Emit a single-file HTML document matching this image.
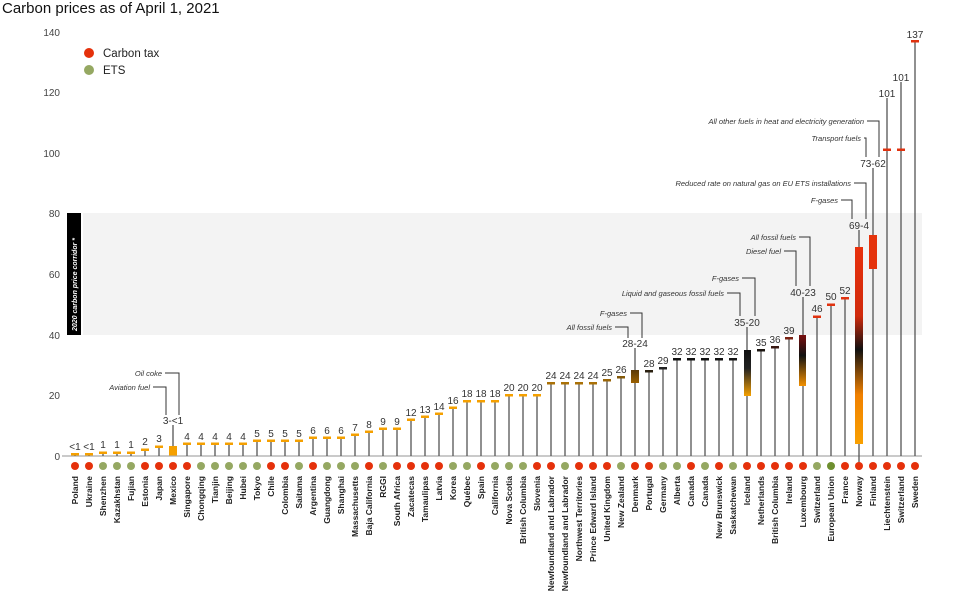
<!DOCTYPE html>
<html><head><meta charset="utf-8"><style>
body{margin:0;background:#fff}
svg{display:block;font-family:"Liberation Sans",sans-serif}
.v{font-size:10px;fill:#333;text-anchor:middle}
.c{font-size:8.5px;font-weight:bold;fill:#222;text-anchor:end}
.a{font-size:7.5px;font-style:italic;fill:#333;text-anchor:end}
.t{font-size:10px;fill:#444;text-anchor:end}
.s{stroke:#555;stroke-width:1.3}
.l{stroke:#333;stroke-width:1;fill:none}
</style></head><body>
<svg width="960" height="604" viewBox="0 0 960 604">
<defs>
<linearGradient id="gn" x1="0" y1="0" x2="0" y2="1"><stop offset="0" stop-color="#e8300c"/><stop offset="0.35" stop-color="#d02a0c"/><stop offset="0.52" stop-color="#111"/><stop offset="0.75" stop-color="#f08000"/><stop offset="1" stop-color="#f9a000"/></linearGradient>
<linearGradient id="gi" x1="0" y1="0" x2="0" y2="1"><stop offset="0" stop-color="#111"/><stop offset="0.4" stop-color="#222"/><stop offset="1" stop-color="#f5a000"/></linearGradient>
<linearGradient id="gl" x1="0" y1="0" x2="0" y2="1"><stop offset="0" stop-color="#7a1010"/><stop offset="0.4" stop-color="#111"/><stop offset="1" stop-color="#f39000"/></linearGradient>
<linearGradient id="gd" x1="0" y1="0" x2="0" y2="1"><stop offset="0" stop-color="#5a3a08"/><stop offset="1" stop-color="#9a6000"/></linearGradient>
</defs>
<text x="2" y="13" style="font-size:15px;fill:#111">Carbon prices as of April 1, 2021</text>
<rect x="83" y="213" width="839" height="122" fill="#f3f3f3"/>
<rect x="67" y="213" width="14" height="122" fill="#000"/>
<text transform="translate(77,331) rotate(-90)" style="font-size:7px;font-weight:bold;font-style:italic;fill:#fff">2020 carbon price corridor *</text>
<g class="t"><text x="60" y="36">140</text><text x="60" y="96">120</text><text x="60" y="157">100</text><text x="60" y="217">80</text><text x="60" y="278">60</text><text x="60" y="339">40</text><text x="60" y="399">20</text><text x="60" y="460">0</text></g>
<circle cx="89" cy="53" r="5" fill="#e5310b"/><text x="103" y="57" style="font-size:11.5px;fill:#222">Carbon tax</text>
<circle cx="89" cy="70" r="5" fill="#95a862"/><text x="103" y="74" style="font-size:11.5px;fill:#222">ETS</text>
<line x1="62" y1="456" x2="922" y2="456" stroke="#aaa" stroke-width="1.2"/>
<g class="s">
<line x1="75" y1="456" x2="75" y2="454"/><line x1="89" y1="456" x2="89" y2="454"/><line x1="103" y1="456" x2="103" y2="453"/><line x1="117" y1="456" x2="117" y2="453"/><line x1="131" y1="456" x2="131" y2="453"/><line x1="145" y1="456" x2="145" y2="450"/><line x1="159" y1="456" x2="159" y2="447"/><line x1="173" y1="447" x2="173" y2="425"/>
<line x1="187" y1="456" x2="187" y2="444"/><line x1="201" y1="456" x2="201" y2="444"/><line x1="215" y1="456" x2="215" y2="444"/><line x1="229" y1="456" x2="229" y2="444"/><line x1="243" y1="456" x2="243" y2="444"/><line x1="257" y1="456" x2="257" y2="441"/><line x1="271" y1="456" x2="271" y2="441"/><line x1="285" y1="456" x2="285" y2="441"/><line x1="299" y1="456" x2="299" y2="441"/><line x1="313" y1="456" x2="313" y2="438"/><line x1="327" y1="456" x2="327" y2="438"/><line x1="341" y1="456" x2="341" y2="438"/><line x1="355" y1="456" x2="355" y2="435"/><line x1="369" y1="456" x2="369" y2="432"/><line x1="383" y1="456" x2="383" y2="429"/><line x1="397" y1="456" x2="397" y2="429"/><line x1="411" y1="456" x2="411" y2="420"/><line x1="425" y1="456" x2="425" y2="417"/><line x1="439" y1="456" x2="439" y2="414"/><line x1="453" y1="456" x2="453" y2="408"/><line x1="467" y1="456" x2="467" y2="401"/><line x1="481" y1="456" x2="481" y2="401"/><line x1="495" y1="456" x2="495" y2="401"/><line x1="509" y1="456" x2="509" y2="395"/><line x1="523" y1="456" x2="523" y2="395"/><line x1="537" y1="456" x2="537" y2="395"/><line x1="551" y1="456" x2="551" y2="383"/><line x1="565" y1="456" x2="565" y2="383"/><line x1="579" y1="456" x2="579" y2="383"/><line x1="593" y1="456" x2="593" y2="383"/><line x1="607" y1="456" x2="607" y2="380"/><line x1="621" y1="456" x2="621" y2="377"/><line x1="635" y1="456" x2="635" y2="348"/><line x1="649" y1="456" x2="649" y2="371"/><line x1="663" y1="456" x2="663" y2="368"/><line x1="677" y1="456" x2="677" y2="359"/><line x1="691" y1="456" x2="691" y2="359"/><line x1="705" y1="456" x2="705" y2="359"/><line x1="719" y1="456" x2="719" y2="359"/><line x1="733" y1="456" x2="733" y2="359"/><line x1="747" y1="456" x2="747" y2="327"/><line x1="761" y1="456" x2="761" y2="350"/><line x1="775" y1="456" x2="775" y2="347"/><line x1="789" y1="456" x2="789" y2="338"/><line x1="803" y1="456" x2="803" y2="297"/><line x1="817" y1="456" x2="817" y2="317"/><line x1="831" y1="456" x2="831" y2="305"/><line x1="845" y1="456" x2="845" y2="298"/><line x1="859" y1="466" x2="859" y2="230"/><line x1="873" y1="456" x2="873" y2="168"/><line x1="887" y1="456" x2="887" y2="98"/><line x1="901" y1="456" x2="901" y2="82"/><line x1="915" y1="456" x2="915" y2="41"/>
</g>
<g fill="#f5a000">
<rect x="71" y="453" width="8" height="2.5"/><rect x="85" y="453" width="8" height="2.5"/><rect x="99" y="451.5" width="8" height="2.5"/><rect x="113" y="451.5" width="8" height="2.5"/><rect x="127" y="451.5" width="8" height="2.5"/><rect x="141" y="448.5" width="8" height="2.5"/><rect x="155" y="445.5" width="8" height="2.5"/><rect x="169" y="446" width="8" height="9.5"/>
<rect x="183" y="442.5" width="8" height="2.5"/><rect x="197" y="442.5" width="8" height="2.5"/><rect x="211" y="442.5" width="8" height="2.5"/><rect x="225" y="442.5" width="8" height="2.5"/><rect x="239" y="442.5" width="8" height="2.5"/><rect x="253" y="439.5" width="8" height="2.5"/><rect x="267" y="439.5" width="8" height="2.5"/><rect x="281" y="439.5" width="8" height="2.5"/><rect x="295" y="439.5" width="8" height="2.5"/><rect x="309" y="436.5" width="8" height="2.5"/><rect x="323" y="436.5" width="8" height="2.5"/><rect x="337" y="436.5" width="8" height="2.5"/><rect x="351" y="433.5" width="8" height="2.5"/><rect x="365" y="430.5" width="8" height="2.5"/><rect x="379" y="427.5" width="8" height="2.5"/><rect x="393" y="427.5" width="8" height="2.5"/><rect x="407" y="418.5" width="8" height="2.5"/><rect x="421" y="415.5" width="8" height="2.5"/><rect x="435" y="412.5" width="8" height="2.5"/><rect x="449" y="406.5" width="8" height="2.5"/><rect x="463" y="400" width="8" height="2.5"/><rect x="477" y="400" width="8" height="2.5"/><rect x="491" y="400" width="8" height="2.5"/><rect x="505" y="394" width="8" height="2.5"/><rect x="519" y="394" width="8" height="2.5"/><rect x="533" y="394" width="8" height="2.5"/>
</g>
<g>
<rect x="547" y="382" width="8" height="2.5" fill="#aa7107"/><rect x="561" y="382" width="8" height="2.5" fill="#aa7107"/><rect x="575" y="382" width="8" height="2.5" fill="#aa7107"/><rect x="589" y="382" width="8" height="2.5" fill="#aa7107"/><rect x="603" y="379" width="8" height="2.5" fill="#996508"/><rect x="617" y="376" width="8" height="2.5" fill="#845a0a"/>
<rect x="631" y="370" width="8" height="13" fill="url(#gd)"/>
<rect x="645" y="370" width="8" height="2.5" fill="#2a2010"/><rect x="659" y="367" width="8" height="2.5" fill="#222"/>
<rect x="673" y="358" width="8" height="2.5" fill="#111"/><rect x="687" y="358" width="8" height="2.5" fill="#111"/><rect x="701" y="358" width="8" height="2.5" fill="#111"/><rect x="715" y="358" width="8" height="2.5" fill="#111"/><rect x="729" y="358" width="8" height="2.5" fill="#111"/>
<rect x="744" y="350" width="7" height="46" fill="url(#gi)"/>
<rect x="757" y="349" width="8" height="2.5" fill="#1a1410"/><rect x="771" y="346" width="8" height="2.5" fill="#3a1a14"/><rect x="785" y="337" width="8" height="2.5" fill="#7a2314"/>
<rect x="799" y="335" width="7" height="51" fill="url(#gl)"/>
<rect x="813" y="315.5" width="8" height="2.5" fill="#e0320f"/><rect x="827" y="303.5" width="8" height="2.5" fill="#e0320f"/><rect x="841" y="297" width="8" height="2.5" fill="#e0320f"/>
<rect x="855" y="247" width="8" height="197" fill="url(#gn)"/>
<rect x="869" y="235" width="8" height="34" fill="#e5330c"/>
<rect x="883" y="148.5" width="8" height="2.5" fill="#e0320f"/><rect x="897" y="148.5" width="8" height="2.5" fill="#e0320f"/><rect x="911" y="40" width="8" height="2.5" fill="#e0320f"/>
</g>
<g class="v">
<text x="75" y="450">&lt;1</text><text x="89" y="450">&lt;1</text><text x="103" y="448">1</text><text x="117" y="448">1</text><text x="131" y="448">1</text><text x="145" y="445">2</text><text x="159" y="442">3</text><text x="173" y="424">3-&lt;1</text>
<text x="187" y="440">4</text><text x="201" y="440">4</text><text x="215" y="440">4</text><text x="229" y="440">4</text><text x="243" y="440">4</text><text x="257" y="437">5</text><text x="271" y="437">5</text><text x="285" y="437">5</text><text x="299" y="437">5</text><text x="313" y="434">6</text><text x="327" y="434">6</text><text x="341" y="434">6</text><text x="355" y="431">7</text><text x="369" y="428">8</text><text x="383" y="425">9</text><text x="397" y="425">9</text><text x="411" y="416">12</text><text x="425" y="413">13</text><text x="439" y="410">14</text><text x="453" y="404">16</text><text x="467" y="397">18</text><text x="481" y="397">18</text><text x="495" y="397">18</text><text x="509" y="391">20</text><text x="523" y="391">20</text><text x="537" y="391">20</text><text x="551" y="379">24</text><text x="565" y="379">24</text><text x="579" y="379">24</text><text x="593" y="379">24</text><text x="607" y="376">25</text><text x="621" y="373">26</text><text x="635" y="347">28-24</text><text x="649" y="367">28</text><text x="663" y="364">29</text><text x="677" y="355">32</text><text x="691" y="355">32</text><text x="705" y="355">32</text><text x="719" y="355">32</text><text x="733" y="355">32</text><text x="747" y="326">35-20</text><text x="761" y="346">35</text><text x="775" y="343">36</text><text x="789" y="334">39</text><text x="803" y="296">40-23</text><text x="817" y="312">46</text><text x="831" y="300">50</text><text x="845" y="294">52</text><text x="859" y="229">69-4</text><text x="873" y="167">73-62</text><text x="887" y="97">101</text><text x="901" y="81">101</text><text x="915" y="38">137</text>
</g>
<g class="a">
<text x="150" y="390">Aviation fuel</text><text x="162" y="376">Oil coke</text>
<text x="612" y="330">All fossil fuels</text><text x="627" y="316">F-gases</text>
<text x="724" y="296">Liquid and gaseous fossil fuels</text><text x="739" y="281">F-gases</text>
<text x="781" y="254">Diesel fuel</text><text x="796" y="240">All fossil fuels</text>
<text x="838" y="203">F-gases</text><text x="851" y="186">Reduced rate on natural gas on EU ETS installations</text>
<text x="861" y="141">Transport fuels</text><text x="864" y="124">All other fuels in heat and electricity generation</text>
</g>
<g class="l">
<polyline points="153,387 166,387 166,415"/><polyline points="165,373 179,373 179,415"/>
<polyline points="615,327 628,327 628,338"/><polyline points="630,313 642,313 642,338"/>
<polyline points="727,293 740,293 740,316"/><polyline points="742,278 755,278 755,316"/>
<polyline points="784,251 796,251 796,286"/><polyline points="799,237 810,237 810,286"/>
<polyline points="841,200 852,200 852,219"/><polyline points="854,183 866,183 866,219"/>
<polyline points="864,138 866,138 866,157"/><polyline points="867,121 879,121 879,157"/>
</g>
<g>
<circle cx="75" cy="466" r="4" fill="#e5310b"/><circle cx="89" cy="466" r="4" fill="#e5310b"/><circle cx="103" cy="466" r="4" fill="#95a862"/><circle cx="117" cy="466" r="4" fill="#95a862"/><circle cx="131" cy="466" r="4" fill="#95a862"/><circle cx="145" cy="466" r="4" fill="#e5310b"/><circle cx="159" cy="466" r="4" fill="#e5310b"/><circle cx="173" cy="466" r="4" fill="#e5310b"/><circle cx="187" cy="466" r="4" fill="#e5310b"/><circle cx="201" cy="466" r="4" fill="#95a862"/><circle cx="215" cy="466" r="4" fill="#95a862"/><circle cx="229" cy="466" r="4" fill="#95a862"/><circle cx="243" cy="466" r="4" fill="#95a862"/><circle cx="257" cy="466" r="4" fill="#95a862"/><circle cx="271" cy="466" r="4" fill="#e5310b"/><circle cx="285" cy="466" r="4" fill="#e5310b"/><circle cx="299" cy="466" r="4" fill="#95a862"/><circle cx="313" cy="466" r="4" fill="#e5310b"/><circle cx="327" cy="466" r="4" fill="#95a862"/><circle cx="341" cy="466" r="4" fill="#95a862"/><circle cx="355" cy="466" r="4" fill="#95a862"/><circle cx="369" cy="466" r="4" fill="#e5310b"/><circle cx="383" cy="466" r="4" fill="#95a862"/><circle cx="397" cy="466" r="4" fill="#e5310b"/><circle cx="411" cy="466" r="4" fill="#e5310b"/><circle cx="425" cy="466" r="4" fill="#e5310b"/><circle cx="439" cy="466" r="4" fill="#e5310b"/><circle cx="453" cy="466" r="4" fill="#95a862"/><circle cx="467" cy="466" r="4" fill="#95a862"/><circle cx="481" cy="466" r="4" fill="#e5310b"/><circle cx="495" cy="466" r="4" fill="#95a862"/><circle cx="509" cy="466" r="4" fill="#95a862"/><circle cx="523" cy="466" r="4" fill="#95a862"/><circle cx="537" cy="466" r="4" fill="#e5310b"/><circle cx="551" cy="466" r="4" fill="#e5310b"/><circle cx="565" cy="466" r="4" fill="#95a862"/><circle cx="579" cy="466" r="4" fill="#e5310b"/><circle cx="593" cy="466" r="4" fill="#e5310b"/><circle cx="607" cy="466" r="4" fill="#e5310b"/><circle cx="621" cy="466" r="4" fill="#95a862"/><circle cx="635" cy="466" r="4" fill="#e5310b"/><circle cx="649" cy="466" r="4" fill="#e5310b"/><circle cx="663" cy="466" r="4" fill="#95a862"/><circle cx="677" cy="466" r="4" fill="#95a862"/><circle cx="691" cy="466" r="4" fill="#e5310b"/><circle cx="705" cy="466" r="4" fill="#95a862"/><circle cx="719" cy="466" r="4" fill="#e5310b"/><circle cx="733" cy="466" r="4" fill="#95a862"/><circle cx="747" cy="466" r="4" fill="#e5310b"/><circle cx="761" cy="466" r="4" fill="#e5310b"/><circle cx="775" cy="466" r="4" fill="#e5310b"/><circle cx="789" cy="466" r="4" fill="#e5310b"/><circle cx="803" cy="466" r="4" fill="#e5310b"/><circle cx="817" cy="466" r="4" fill="#95a862"/><circle cx="831" cy="466" r="4" fill="#6e8f2f"/><circle cx="845" cy="466" r="4" fill="#e5310b"/><circle cx="859" cy="466" r="4" fill="#e5310b"/><circle cx="873" cy="466" r="4" fill="#e5310b"/><circle cx="887" cy="466" r="4" fill="#e5310b"/><circle cx="901" cy="466" r="4" fill="#e5310b"/><circle cx="915" cy="466" r="4" fill="#e5310b"/>
</g>
<g class="c">
<text transform="translate(78,476) rotate(-90)">Poland</text><text transform="translate(92,476) rotate(-90)">Ukraine</text><text transform="translate(106,476) rotate(-90)">Shenzhen</text><text transform="translate(120,476) rotate(-90)">Kazakhstan</text><text transform="translate(134,476) rotate(-90)">Fujian</text><text transform="translate(148,476) rotate(-90)">Estonia</text><text transform="translate(162,476) rotate(-90)">Japan</text><text transform="translate(176,476) rotate(-90)">Mexico</text><text transform="translate(190,476) rotate(-90)">Singapore</text><text transform="translate(204,476) rotate(-90)">Chongqing</text><text transform="translate(218,476) rotate(-90)">Tianjin</text><text transform="translate(232,476) rotate(-90)">Beijing</text><text transform="translate(246,476) rotate(-90)">Hubei</text><text transform="translate(260,476) rotate(-90)">Tokyo</text><text transform="translate(274,476) rotate(-90)">Chile</text><text transform="translate(288,476) rotate(-90)">Colombia</text><text transform="translate(302,476) rotate(-90)">Saitama</text><text transform="translate(316,476) rotate(-90)">Argentina</text><text transform="translate(330,476) rotate(-90)">Guangdong</text><text transform="translate(344,476) rotate(-90)">Shanghai</text><text transform="translate(358,476) rotate(-90)">Massachusetts</text><text transform="translate(372,476) rotate(-90)">Baja California</text><text transform="translate(386,476) rotate(-90)">RGGI</text><text transform="translate(400,476) rotate(-90)">South Africa</text><text transform="translate(414,476) rotate(-90)">Zacatecas</text><text transform="translate(428,476) rotate(-90)">Tamaulipas</text><text transform="translate(442,476) rotate(-90)">Latvia</text><text transform="translate(456,476) rotate(-90)">Korea</text><text transform="translate(470,476) rotate(-90)">Québec</text><text transform="translate(484,476) rotate(-90)">Spain</text><text transform="translate(498,476) rotate(-90)">California</text><text transform="translate(512,476) rotate(-90)">Nova Scotia</text><text transform="translate(526,476) rotate(-90)">British Columbia</text><text transform="translate(540,476) rotate(-90)">Slovenia</text><text transform="translate(554,476) rotate(-90)">Newfoundland and Labrador</text><text transform="translate(568,476) rotate(-90)">Newfoundland and Labrador</text><text transform="translate(582,476) rotate(-90)">Northwest Territories</text><text transform="translate(596,476) rotate(-90)">Prince Edward Island</text><text transform="translate(610,476) rotate(-90)">United Kingdom</text><text transform="translate(624,476) rotate(-90)">New Zealand</text><text transform="translate(638,476) rotate(-90)">Denmark</text><text transform="translate(652,476) rotate(-90)">Portugal</text><text transform="translate(666,476) rotate(-90)">Germany</text><text transform="translate(680,476) rotate(-90)">Alberta</text><text transform="translate(694,476) rotate(-90)">Canada</text><text transform="translate(708,476) rotate(-90)">Canada</text><text transform="translate(722,476) rotate(-90)">New Brunswick</text><text transform="translate(736,476) rotate(-90)">Saskatchewan</text><text transform="translate(750,476) rotate(-90)">Iceland</text><text transform="translate(764,476) rotate(-90)">Netherlands</text><text transform="translate(778,476) rotate(-90)">British Columbia</text><text transform="translate(792,476) rotate(-90)">Ireland</text><text transform="translate(806,476) rotate(-90)">Luxembourg</text><text transform="translate(820,476) rotate(-90)">Switzerland</text><text transform="translate(834,476) rotate(-90)">European Union</text><text transform="translate(848,476) rotate(-90)">France</text><text transform="translate(862,476) rotate(-90)">Norway</text><text transform="translate(876,476) rotate(-90)">Finland</text><text transform="translate(890,476) rotate(-90)">Liechtenstein</text><text transform="translate(904,476) rotate(-90)">Switzerland</text><text transform="translate(918,476) rotate(-90)">Sweden</text>
</g>
</svg>
</body></html>
